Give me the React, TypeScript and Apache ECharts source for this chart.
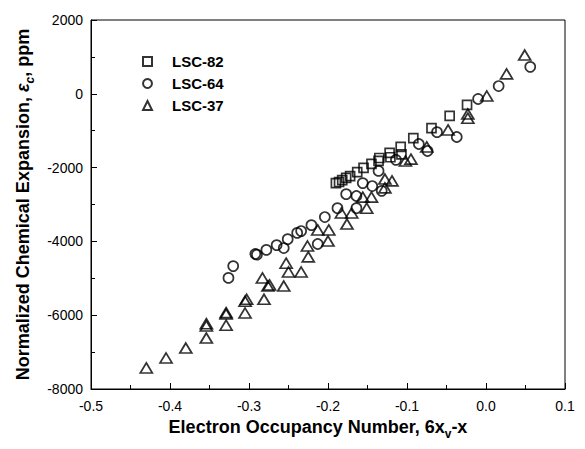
import React, { useEffect, useRef } from "react";
import * as echarts from "echarts";

// x: electron occupancy number (6x_v - x), y: normalized chemical expansion (ppm)
const lsc82: [number, number][] = [
  [-0.190, -2420], [-0.186, -2390], [-0.182, -2340], [-0.177, -2280], [-0.172, -2230],
  [-0.163, -2120], [-0.155, -2010], [-0.145, -1900], [-0.136, -1820], [-0.135, -1740],
  [-0.122, -1600], [-0.121, -1720], [-0.108, -1440], [-0.107, -1640], [-0.092, -1200],
  [-0.069, -930], [-0.046, -600], [-0.024, -300],
];

const lsc64: [number, number][] = [
  [-0.326, -4990], [-0.320, -4670], [-0.292, -4340], [-0.290, -4360], [-0.278, -4230],
  [-0.265, -4100], [-0.256, -4180], [-0.251, -3940], [-0.239, -3770], [-0.234, -3720],
  [-0.221, -3560], [-0.213, -4070], [-0.204, -3340], [-0.188, -3100], [-0.177, -2720],
  [-0.164, -2770], [-0.164, -3100], [-0.156, -2420], [-0.144, -2500], [-0.132, -2630],
  [-0.136, -2090], [-0.114, -1790], [-0.085, -1360], [-0.074, -1550], [-0.062, -1040],
  [-0.037, -1170], [-0.010, -140], [0.016, 210], [0.056, 730],
];

const lsc37: [number, number][] = [
  [-0.430, -7430], [-0.405, -7160], [-0.380, -6890], [-0.354, -6620], [-0.354, -6290],
  [-0.354, -6230], [-0.329, -6270], [-0.329, -5970], [-0.329, -5930], [-0.305, -5940],
  [-0.305, -5620], [-0.303, -5570], [-0.281, -5570], [-0.283, -4990], [-0.276, -5210],
  [-0.274, -5180], [-0.256, -5210], [-0.253, -4590], [-0.250, -4830], [-0.234, -4830],
  [-0.226, -4125], [-0.225, -4420], [-0.213, -3690], [-0.199, -3690], [-0.200, -3990],
  [-0.183, -3230], [-0.170, -3230], [-0.176, -3530], [-0.156, -2800], [-0.151, -3100],
  [-0.145, -2800], [-0.128, -2310], [-0.119, -2360], [-0.128, -2550], [-0.102, -1820],
  [-0.095, -1770], [-0.075, -1440], [-0.048, -980], [-0.023, -550], [-0.023, -660],
  [0.001, -60], [0.026, 540], [0.049, 1050],
];

const seriesNames = ["LSC-82", "LSC-64", "LSC-37"];
const xTitle = "{a|Electron Occupancy Number, 6x}{s|v}{a|-x}";
const yTitle = "{a|Normalized Chemical Expansion, }{e|ε}{se|c}{a|, ppm}";

const FONT = 'Arial, "Liberation Sans", sans-serif';

export default function App() {
  const ref = useRef<HTMLDivElement>(null);
  useEffect(() => {
    document.body.style.margin = "0";
    if (!ref.current) return;
    const chart = echarts.init(ref.current, undefined, { renderer: "svg" });
    const titleRich = {
      a: { fontFamily: FONT, fontSize: 18, fontWeight: "bold", color: "#000", lineHeight: 26 },
      e: { fontFamily: FONT, fontSize: 18, fontWeight: "bold", fontStyle: "italic", color: "#000", lineHeight: 26 },
      s: { fontFamily: FONT, fontSize: 12, fontWeight: "bold", color: "#000", lineHeight: 14, verticalAlign: "bottom" },
      se: { fontFamily: FONT, fontSize: 12, fontWeight: "bold", fontStyle: "italic", color: "#000", lineHeight: 14, verticalAlign: "bottom" },
    };
    const markerStyle = { color: "rgba(0,0,0,0)", borderColor: "#000", borderWidth: 1.7 };
    chart.setOption({
      animation: false,
      grid: { left: 91, right: 20, top: 20, bottom: 60, show: true, borderColor: "#000", borderWidth: 1 },
      legend: {
        orient: "vertical",
        left: 137,
        top: 49,
        itemWidth: 9,
        itemHeight: 9,
        itemGap: 7,
        data: seriesNames,
        textStyle: { fontFamily: FONT, fontSize: 15, fontWeight: "bold", color: "#000", lineHeight: 15, padding: [0, 0, 0, 15] },
      },
      xAxis: {
        type: "value",
        min: -0.5,
        max: 0.1,
        interval: 0.1,
        name: xTitle,
        nameLocation: "middle",
        nameGap: 22,
        nameTextStyle: { rich: titleRich, padding: [0, 20, 0, 0] },
        axisLine: { onZero: false, lineStyle: { color: "#000", width: 1 } },
        axisTick: { inside: true, length: 6, lineStyle: { color: "#000" } },
        minorTick: { show: true, splitNumber: 2, length: 4, lineStyle: { color: "#000" } },
        splitLine: { show: false },
        axisLabel: {
          fontFamily: FONT,
          fontSize: 14,
          color: "#000",
          margin: 10,
          formatter: (v: number) => (Math.abs(v) < 1e-9 ? "0.0" : v.toFixed(1)),
        },
      },
      yAxis: {
        type: "value",
        min: -8000,
        max: 2000,
        interval: 2000,
        name: yTitle,
        nameLocation: "middle",
        nameRotate: 90,
        nameGap: 53,
        nameTextStyle: { rich: titleRich },
        axisLine: { onZero: false, lineStyle: { color: "#000", width: 1 } },
        axisTick: { inside: true, length: 6, lineStyle: { color: "#000" } },
        minorTick: { show: true, splitNumber: 2, length: 4, lineStyle: { color: "#000" } },
        splitLine: { show: false },
        axisLabel: { fontFamily: FONT, fontSize: 14, color: "#000", margin: 8, formatter: (v: number) => String(v) },
      },
      series: [
        { name: seriesNames[0], type: "scatter", symbol: "rect", symbolSize: 9, data: lsc82, itemStyle: markerStyle },
        { name: seriesNames[1], type: "scatter", symbol: "circle", symbolSize: 10, data: lsc64, itemStyle: markerStyle },
        { name: seriesNames[2], type: "scatter", symbol: "triangle", symbolSize: [12, 10], data: lsc37, itemStyle: markerStyle },
      ],
    });
    return () => chart.dispose();
  }, []);
  return <div ref={ref} style={{ width: 585, height: 449 }} />;
}
